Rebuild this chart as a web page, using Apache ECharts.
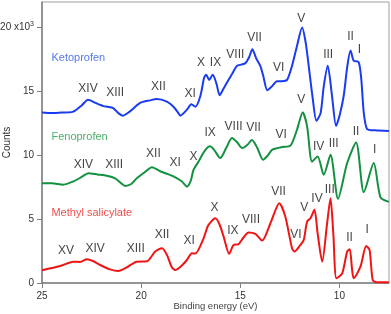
<!DOCTYPE html>
<html><head><meta charset="utf-8">
<script src="https://cdn.jsdelivr.net/npm/echarts@6/dist/echarts.min.js"></script>
<style>html,body{margin:0;padding:0;background:#fff}#c{width:391px;height:314px}</style>
</head><body><div id="c"></div>
<script>
// Binding energy (eV), counts (x10^3)
const ketoprofen = [
[25.0,13.35],[24.5,13.3],[24.0,13.35],[23.45,13.4],[23.0,13.9],[22.68,14.35],[22.3,14.1],[21.9,13.85],[21.7,13.8],[21.41,13.7],[21.15,13.3],[20.92,13.1],[20.56,13.44],[20.05,14.1],[19.55,14.3],[19.21,14.4],[18.7,14.2],[18.37,13.8],[18.12,13.3],[18.03,13.1],[17.69,13.57],[17.47,14.0],[17.27,13.8],[17.02,14.6],[16.82,16.1],[16.72,16.3],[16.57,15.9],[16.39,16.3],[16.2,15.6],[16.04,14.7],[15.85,15.2],[15.67,15.7],[15.4,16.4],[15.17,17.0],[14.95,17.1],[14.75,17.2],[14.55,17.7],[14.39,18.3],[14.2,17.6],[13.99,17.0],[13.84,16.2],[13.64,15.1],[13.4,15.4],[13.15,15.8],[12.9,15.8],[12.64,15.9],[12.39,17.0],[12.15,18.5],[11.88,20.0],[11.7,18.8],[11.55,17.0],[11.35,14.5],[11.16,12.7],[10.95,13.3],[10.79,15.4],[10.59,17.0],[10.37,14.6],[10.17,12.3],[9.98,13.2],[9.78,14.7],[9.6,17.0],[9.44,18.2],[9.28,17.4],[9.03,17.3],[8.9,16.0],[8.77,13.3],[8.6,12.05],[8.2,11.95],[7.5,11.9]
];
const fenoprofen = [
[25.0,7.8],[24.5,7.8],[23.92,7.7],[23.42,7.95],[23.0,8.3],[22.66,8.6],[22.2,8.5],[21.73,8.4],[21.31,8.2],[21.0,7.8],[20.81,7.6],[20.5,7.75],[20.22,8.2],[19.8,8.7],[19.46,9.07],[19.04,8.75],[18.7,8.55],[18.37,8.35],[17.94,7.95],[17.69,7.55],[17.5,8.0],[17.36,8.85],[17.11,9.5],[16.77,10.4],[16.52,10.7],[16.31,10.4],[16.01,9.78],[15.7,10.6],[15.42,11.35],[15.15,11.0],[14.91,10.56],[14.65,10.8],[14.41,11.2],[14.15,10.6],[13.85,9.65],[13.6,10.0],[13.4,10.43],[12.89,10.64],[12.47,10.75],[12.14,12.0],[11.85,13.36],[11.63,12.26],[11.38,9.5],[11.1,9.9],[10.79,8.47],[10.45,10.04],[10.07,6.6],[9.61,9.39],[9.16,11.0],[8.77,7.1],[8.27,9.39],[7.93,6.7],[7.51,6.35]
];
const methylSalicylate = [
[25.0,1.0],[24.09,1.33],[23.42,1.67],[23.08,1.65],[22.74,1.86],[22.4,1.7],[22.07,1.41],[21.57,1.07],[21.15,0.94],[20.72,1.23],[20.22,1.67],[19.71,1.7],[19.29,2.46],[18.95,2.72],[18.7,2.2],[18.45,1.23],[18.28,1.02],[18.0,1.3],[17.69,1.8],[17.44,2.33],[17.27,2.3],[16.85,3.5],[16.62,4.5],[16.26,5.07],[16.05,4.6],[15.84,3.63],[15.56,2.27],[15.34,2.98],[15.09,3.03],[14.83,3.58],[14.58,3.95],[14.24,3.84],[13.9,3.32],[13.48,4.68],[13.03,6.25],[12.73,5.2],[12.39,2.72],[12.27,2.46],[11.97,2.98],[11.8,3.37],[11.63,4.81],[11.46,5.07],[11.26,5.73],[11.1,3.9],[10.87,1.67],[10.62,4.68],[10.45,6.64],[10.31,3.9],[10.15,0.37],[9.86,0.76],[9.61,2.46],[9.48,2.64],[9.36,1.02],[9.28,0.37],[8.94,1.28],[8.65,2.9],[8.48,2.59],[8.32,0.24],[8.1,0.05],[7.51,0.05]
];
const ketoLabels = [['XIV',22.68,15.2],['XIII',21.31,14.9],['XII',19.13,15.35],['XI',17.53,14.8],['X',16.98,17.28],['IX',16.25,17.28],['VIII',15.25,17.9],['VII',14.28,19.2],['VI',13.07,16.84],['V',11.92,20.7],['III',10.57,17.9],['II',9.44,19.3],['I',8.99,18.3]];
const fenoLabels = [['XIV',22.91,9.25],['XIII',21.36,9.25],['XII',19.38,10.1],['XI',18.28,9.39],['X',17.36,9.9],['IX',16.52,11.74],['VIII',15.34,12.26],['VII',14.33,12.18],['VI',12.94,11.6],['V',11.92,14.35],['IV',11.05,10.69],['III',10.29,10.9],['II',9.16,11.87],['I',8.22,10.43]];
const methylLabels = [['XV',23.79,2.51],['XIV',22.32,2.67],['XIII',20.27,2.67],['XII',18.95,3.76],['XI',17.58,3.29],['X',16.3,5.86],['IX',15.37,4.1],['VIII',14.46,4.94],['VII',13.07,7.16],['VI',12.19,3.76],['V',11.77,5.86],['IV',11.13,6.59],['III',10.49,7.29],['II',9.49,3.58],['I',8.6,4.2]];
const seriesNames = [['Ketoprofen',24.55,17.6],['Fenoprofen',24.55,11.43],['Methyl salicylate',24.55,5.47]];
const xTicks = [10,15,20,25];
const yTicks = [0,5,10,15,20];

const colors = ['#1a3cf0','#149140','#f01414'];
const nameColors = ['#2a55ee','#1c9a44','#ee2020'];
const FONT = 'Liberation Sans, Arial, sans-serif';

function curve(data, c){
  return {type:'line', data:data, smooth:0.25, showSymbol:false, symbol:'none',
    lineStyle:{color:c, width:2}, z:3, animation:false};
}
function labels(arr, opts){
  return {type:'scatter', data:arr.map(a=>({value:[a[1],a[2]], name:a[0]})), symbolSize:1,
    itemStyle:{color:'rgba(0,0,0,0)'}, z:5, animation:false, silent:true,
    label:Object.assign({show:true, position:'inside', formatter:p=>p.name, fontFamily:FONT, fontSize:12, color:'#111'}, opts||{})};
}

const chart = echarts.init(document.getElementById('c'), null, {renderer:'canvas'});
chart.setOption({
  animation:false,
  grid:{left:42, right:2, top:2, bottom:31, containLabel:false, outerBoundsMode:'none',
    show:true, borderColor:'#a0a0a0', borderWidth:1},
  xAxis:{type:'value', inverse:true, min:7.5, max:25,
    name:'Binding energy (eV)', nameLocation:'middle', nameGap:18, nameMoveOverlap:false,
    nameTextStyle:{fontFamily:FONT, fontSize:9.5, color:'#444'},
    axisLine:{show:true, lineStyle:{color:'#808080', width:1.5}},
    axisTick:{show:true, inside:false, length:5, customValues:xTicks, lineStyle:{color:'#808080'}},
    axisLabel:{customValues:xTicks, margin:8, fontFamily:FONT, fontSize:10, color:'#333'},
    splitLine:{show:false}},
  yAxis:{type:'value', min:0, max:22,
    name:'Counts', nameLocation:'middle', nameGap:30, nameRotate:90, nameMoveOverlap:false,
    nameTextStyle:{fontFamily:FONT, fontSize:10, color:'#333'},
    axisLine:{show:true, lineStyle:{color:'#808080', width:1.5}},
    axisTick:{show:true, inside:false, length:5, customValues:yTicks, lineStyle:{color:'#808080'}},
    axisLabel:{customValues:yTicks, margin:8, fontFamily:FONT, fontSize:10, color:'#333',
      formatter:v=> v===20 ? '{a|20 x10}{s|3}' : String(v),
      rich:{a:{fontFamily:FONT, fontSize:10, color:'#333'}, s:{fontFamily:FONT, fontSize:7, color:'#333', padding:[0,0,7,0]}}},
    splitLine:{show:false}},
  series:[
    curve(ketoprofen, colors[0]),
    curve(fenoprofen, colors[1]),
    curve(methylSalicylate, colors[2]),
    labels(ketoLabels), labels(fenoLabels), labels(methylLabels),
    {type:'scatter', data:seriesNames.map((a,i)=>({value:[a[1],a[2]], name:a[0], label:{color:nameColors[i]}})),
      symbolSize:1, itemStyle:{color:'rgba(0,0,0,0)'}, silent:true, z:5,
      label:{show:true, position:'right', distance:0, formatter:p=>p.name, fontFamily:FONT, fontSize:11}}
  ]
});
</script></body></html>
